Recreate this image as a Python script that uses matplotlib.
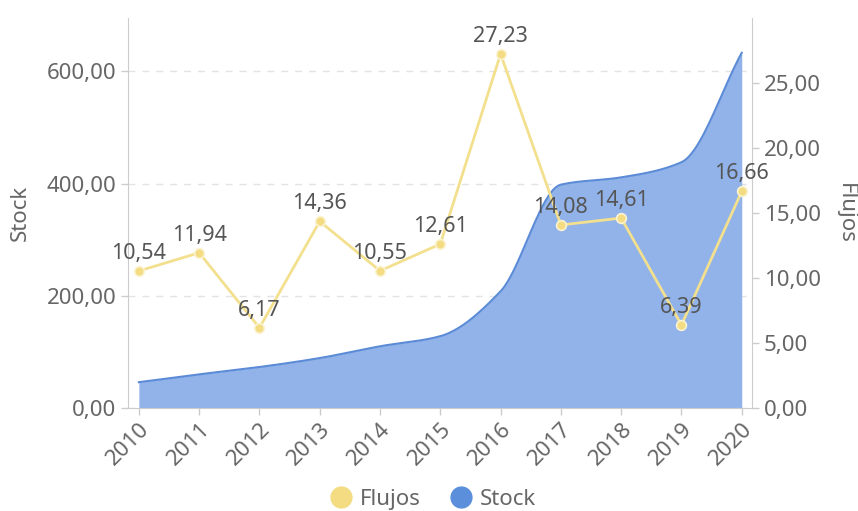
import numpy as np
import matplotlib
matplotlib.use("Agg")
import matplotlib.pyplot as plt
from matplotlib.lines import Line2D

years = [2010, 2011, 2012, 2013, 2014, 2015, 2016, 2017, 2018, 2019, 2020]
stock = [46, 60, 73, 89, 110, 128, 208, 398, 411, 438, 633]
flujos = [10.54, 11.94, 6.17, 14.36, 10.55, 12.61, 27.23, 14.08, 14.61, 6.39, 16.66]

plt.rcParams['font.family'] = ['Noto Sans', 'DejaVu Sans']

def monotone(x, y, n=400):
    x = np.asarray(x, float); y = np.asarray(y, float)
    h = np.diff(x); d = np.diff(y) / h
    m = np.zeros_like(y)
    m[0] = d[0]; m[-1] = d[-1]
    for i in range(1, len(y) - 1):
        if d[i-1] * d[i] <= 0:
            m[i] = 0
        else:
            w1 = 2*h[i] + h[i-1]; w2 = h[i] + 2*h[i-1]
            m[i] = (w1 + w2) / (w1/d[i-1] + w2/d[i])
    xs = np.linspace(x[0], x[-1], n)
    idx = np.clip(np.searchsorted(x, xs) - 1, 0, len(x) - 2)
    t = (xs - x[idx]) / h[idx]
    h00 = 2*t**3 - 3*t**2 + 1; h10 = t**3 - 2*t**2 + t
    h01 = -2*t**3 + 3*t**2; h11 = t**3 - t**2
    ys = h00*y[idx] + h10*h[idx]*m[idx] + h01*y[idx+1] + h11*h[idx]*m[idx+1]
    return xs, ys

fig = plt.figure(figsize=(8.58, 5.11), dpi=100)
ax = fig.add_axes([128/858, 1 - 408/511, (752-128)/858, (408-18)/511])
ax2 = ax.twinx()

txt = '#666666'
spine = '#cccccc'
fs = 16

xs, ys = monotone(years, stock)
ax.fill_between(xs, 0, ys, color='#91b3ea', lw=0, zorder=2)
ax.plot(xs, ys, color='#5b8bd6', lw=1.5, zorder=3)

ax.set_xlim(2009.82, 2020.17)
ax.set_ylim(0, 695)
ax.set_yticks([0, 200, 400, 600])
ax.set_yticklabels(['0,00', '200,00', '400,00', '600,00'])
ax.yaxis.grid(True, color='#e3e3e3', ls=(0, (5, 5)), lw=1)
ax.set_axisbelow(True)
ax.set_xticks(years)
ax.set_xticklabels([str(y) for y in years], rotation=45, ha='right', rotation_mode='anchor')

ax2.set_ylim(0, 30)
ax2.set_yticks([0, 5, 10, 15, 20, 25])
ax2.set_yticklabels(['0,00', '5,00', '10,00', '15,00', '20,00', '25,00'])

ax2.plot(years, flujos, color='#f3e08e', lw=2, marker='o', ms=7,
         mfc='#f3dc82', mec='#fbf3d2', mew=1.2, zorder=5)
for x, v in zip(years, flujos):
    ax2.annotate(f"{v:.2f}".replace('.', ','), (x, v), xytext=(0, 5),
                 textcoords='offset points', ha='center', va='bottom',
                 fontsize=fs - 0.5, color='#555555', zorder=6)

for a in (ax, ax2):
    a.spines['top'].set_visible(False)
    a.spines['left'].set_color(spine)
    a.spines['right'].set_color(spine)
    a.spines['bottom'].set_color(spine)
    a.tick_params(colors=spine, labelcolor=txt, labelsize=fs, length=5, width=1)
ax2.spines['left'].set_visible(False)
ax2.spines['bottom'].set_visible(False)
ax.spines['right'].set_visible(False)
ax.tick_params(axis='x', pad=3)

ax.set_ylabel('Stock', color=txt, fontsize=fs, labelpad=11)
ax2.set_ylabel('Flujos', color=txt, fontsize=fs, rotation=270, labelpad=25)

handles = [Line2D([], [], ls='none', marker='o', ms=15, color='#f3dc82', label='Flujos'),
           Line2D([], [], ls='none', marker='o', ms=15, color='#5b8fdc', label='Stock')]
leg = fig.legend(handles=handles, loc='center', bbox_to_anchor=(0.505, 1 - 499/511),
                 ncol=2, frameon=False, fontsize=fs, handlelength=1.0,
                 handletextpad=0.35, columnspacing=1.3, borderpad=0)
for t in leg.get_texts():
    t.set_color(txt)

fig.savefig('out.png', dpi=100)
